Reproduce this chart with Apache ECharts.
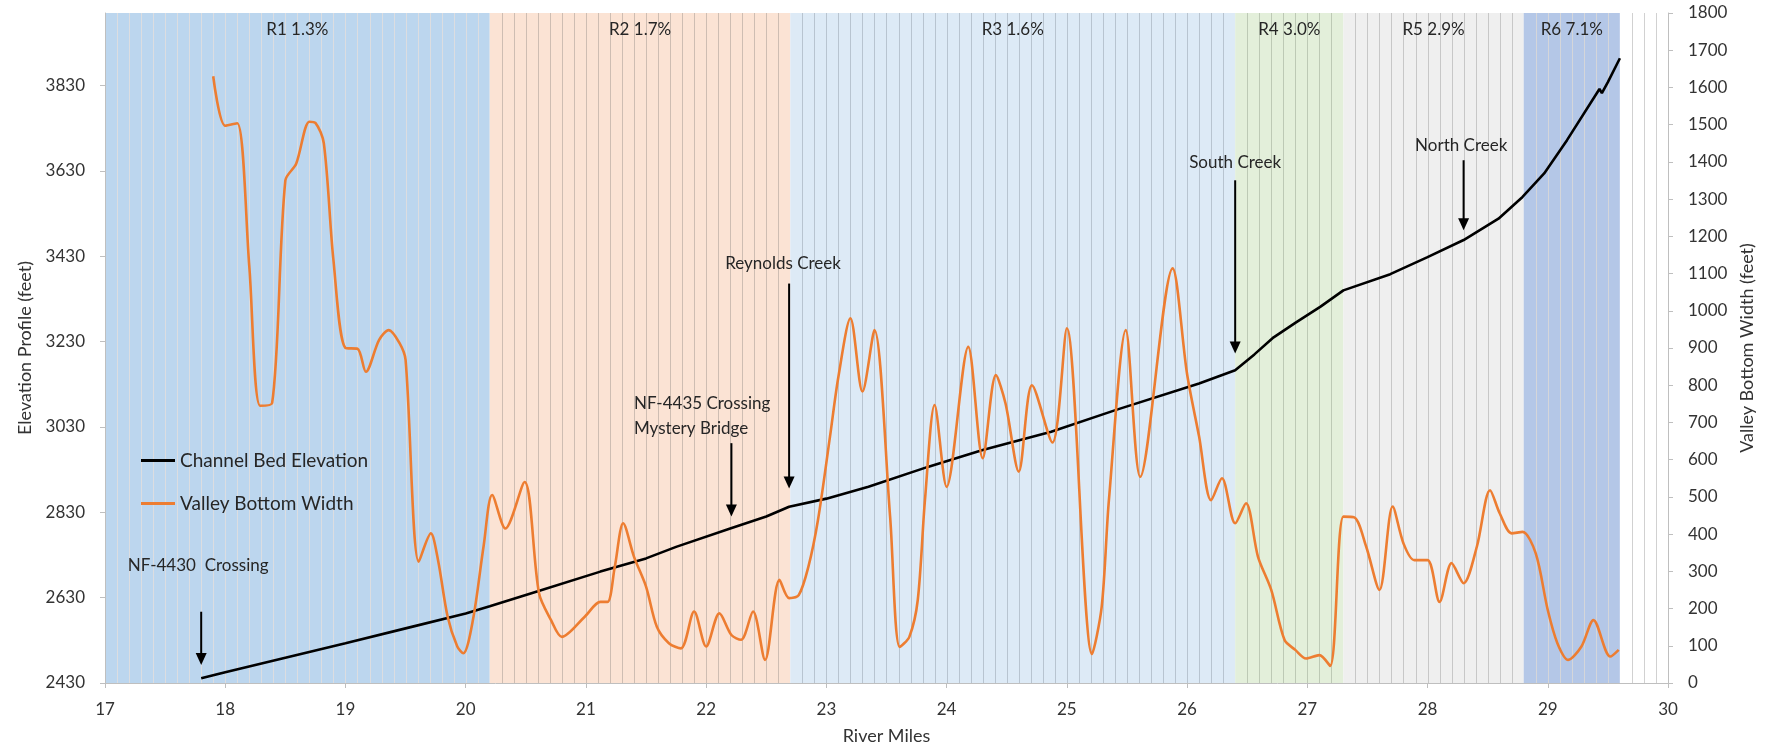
<!DOCTYPE html>
<html>
<head>
<meta charset="utf-8">
<title>Channel Bed Elevation and Valley Bottom Width</title>
<style>
  html, body { margin: 0; padding: 0; background: #ffffff; }
  #chart { width: 1775px; height: 754px; }
</style>
<script src="https://cdn.jsdelivr.net/npm/echarts@6/dist/echarts.min.js"></script>
</head>
<body>
<div id="chart"></div>
<script>
// ---- Reaches (background bands) ----
const reachLabels = ['R1 1.3%', 'R2 1.7%', 'R3 1.6%', 'R4 3.0%', 'R5 2.9%', 'R6 7.1%', ''];
const reachStart  = [17.0, 20.2, 22.7, 26.4, 27.3, 28.8, 29.6];
const reachEnd    = [20.2, 22.7, 26.4, 27.3, 28.8, 29.6, 30.0];

// ---- Channel bed elevation (feet) by river mile ----
const elevMiles = [17.8, 18.0, 18.5, 19.0, 19.5, 20.0, 20.2, 20.6, 21.12, 21.5, 21.75, 22.2, 22.5, 22.69,
  23.0, 23.35, 23.85, 24.3, 24.87, 25.41, 26.1, 26.4, 26.56, 26.72, 26.9, 27.11, 27.3, 27.69, 28.0,
  28.3, 28.59, 28.79, 28.97, 29.16, 29.43, 29.45, 29.5, 29.6];
const elevations = [2441, 2455, 2489, 2523, 2558, 2593, 2610, 2645, 2691, 2722, 2749, 2792, 2820, 2843,
  2862, 2890, 2937, 2976, 3019, 3070, 3132, 3163, 3200, 3240, 3274, 3312, 3350, 3388, 3428,
  3468, 3518, 3569, 3624, 3702, 3822, 3812, 3838, 3894];

// ---- Valley bottom width (feet) by river mile ----
const widthMiles = [17.9, 18.0, 18.1, 18.2, 18.29, 18.39, 18.5, 18.59, 18.7, 18.75, 18.82, 18.9, 19.0, 19.1,
  19.17, 19.28, 19.36, 19.45, 19.5, 19.61, 19.71, 19.77, 19.85, 19.93, 19.98, 20.06, 20.15, 20.22, 20.33,
  20.49, 20.61, 20.71, 20.8, 20.99, 21.12, 21.18, 21.24, 21.31, 21.4, 21.5, 21.59, 21.69, 21.79, 21.9,
  22.0, 22.11, 22.21, 22.29, 22.39, 22.49, 22.61, 22.69, 22.77, 22.85, 22.93, 23.03, 23.1, 23.2, 23.3,
  23.4, 23.53, 23.61, 23.69, 23.76, 23.82, 23.9, 24.0, 24.18, 24.3, 24.41, 24.49, 24.6, 24.71, 24.88,
  25.0, 25.21, 25.29, 25.35, 25.49, 25.61, 25.88, 26.0, 26.1, 26.2, 26.29, 26.4, 26.49, 26.59, 26.7,
  26.81, 26.9, 26.99, 27.1, 27.19, 27.3, 27.39, 27.49, 27.6, 27.71, 27.8, 27.89, 28.0, 28.1, 28.2,
  28.3, 28.41, 28.52, 28.6, 28.7, 28.79, 28.9, 29.0, 29.08, 29.17, 29.28, 29.38, 29.52, 29.59];
const widths = [1630, 1497, 1504, 1120, 745, 752, 1350, 1395, 1508, 1505, 1450, 1136, 900, 898,
  836, 922, 948, 913, 868, 326, 402, 330, 178, 98, 80, 169, 370, 505, 415,
  540, 241, 169, 124, 178, 218, 218, 312, 429, 339, 259, 151, 107, 93, 192,
  98, 187, 129, 116, 192, 62, 277, 228, 236, 312, 438, 662, 823, 980, 783,
  948, 447, 97, 124, 223, 492, 747, 527, 903, 604, 827, 751, 568, 800, 646,
  953, 78, 205, 492, 948, 554, 1114, 830, 662, 491, 550, 429, 483, 339, 250,
  116, 89, 66, 75, 46, 447, 445, 366, 250, 474, 375, 330, 330, 218, 322,
  268, 366, 518, 456, 402, 406, 348, 196, 107, 62, 98, 169, 71, 89];

// ---- Axis ticks ----
const mileTicks  = [17, 18, 19, 20, 21, 22, 23, 24, 25, 26, 27, 28, 29, 30];
const elevTicks  = [2430, 2630, 2830, 3030, 3230, 3430, 3630, 3830];
const widthTicks = [0, 100, 200, 300, 400, 500, 600, 700, 800, 900, 1000, 1100, 1200, 1300, 1400, 1500, 1600, 1700, 1800];

// ---- Notes: landmarks along the channel (arrow from/to in feet of elevation) ----
const noteLabels    = ['NF-4430  Crossing', 'NF-4435 Crossing\nMystery Bridge', 'Reynolds Creek', 'South Creek', 'North Creek'];
const noteMiles     = [17.8, 22.21, 22.69, 26.4, 28.3];
const noteFrom      = [2597, 2992, 3366, 3608, 3655];
const noteTo        = [2472, 2820, 2886, 3202, 3491];
const noteTextMiles = [17.19, 21.4, 22.64, 26.4, 28.28];
const noteTextElev  = [2706, 3056, 3412, 3649, 3690];

// ---- Styling ----
const FONT = 'Lato';
const TEXT = '#333333';
const AXIS = '#bfbfbf';
const reachFill = ['#bcd6ee', '#fbe3d4', '#ddeaf6', '#e3efda', '#efefef', '#b4c7e7', '#ffffff'];
const reachRule = ['rgba(246,228,214,0.55)', 'rgba(140,132,128,0.40)', 'rgba(120,130,142,0.36)',
  'rgba(130,140,122,0.38)', 'rgba(140,140,140,0.40)', 'rgba(240,226,206,0.55)', 'rgba(140,140,140,0.40)'];
const noteAlign = ['left', 'left', 'center', 'center', 'center'];

const elevMin = elevTicks[0];
const elevMax = 4000;

function renderReach(params, api) {
  const s = api.value(0), e = api.value(2), i = api.value(3);
  const cs = params.coordSys;
  const xa = api.coord([s, elevMin])[0];
  const xb = api.coord([e, elevMin])[0];
  const children = [{
    type: 'rect',
    shape: { x: xa, y: cs.y, width: xb - xa, height: cs.height },
    style: { fill: reachFill[i] }
  }];
  // thin rules every tenth of a mile
  for (let k = Math.round(s * 10) + 1; k < Math.round(e * 10); k++) {
    const x = Math.round(api.coord([k / 10, elevMin])[0]) + 0.5;
    children.push({
      type: 'line',
      shape: { x1: x, y1: cs.y, x2: x, y2: cs.y + cs.height },
      style: { stroke: reachRule[i], lineWidth: 1 }
    });
  }
  if (reachLabels[i]) {
    children.push({
      type: 'text',
      x: (xa + xb) / 2,
      y: cs.y + 17,
      style: { text: reachLabels[i], fill: '#262626', fontSize: 17, fontFamily: FONT, align: 'center', verticalAlign: 'middle' }
    });
  }
  return { type: 'group', children: children };
}

function renderNote(params, api) {
  const i = api.value(2);
  const top = api.coord([noteMiles[i], noteFrom[i]]);
  const tip = api.coord([noteMiles[i], noteTo[i]]);
  const txt = api.coord([noteTextMiles[i], noteTextElev[i]]);
  const head = 12, half = 5.5;
  return {
    type: 'group',
    children: [
      { type: 'line', shape: { x1: top[0], y1: top[1], x2: tip[0], y2: tip[1] - head + 1 },
        style: { stroke: '#000', lineWidth: 2 } },
      { type: 'polygon', shape: { points: [[tip[0], tip[1]], [tip[0] - half, tip[1] - head], [tip[0] + half, tip[1] - head]] },
        style: { fill: '#000' } },
      { type: 'text', x: txt[0], y: txt[1],
        style: { text: noteLabels[i], fill: '#262626', fontSize: 17, fontFamily: FONT, lineHeight: 25,
                 align: noteAlign[i], verticalAlign: 'middle' } }
    ]
  };
}

const chart = echarts.init(document.getElementById('chart'), null, { renderer: 'canvas' });

chart.setOption({
  animation: false,
  backgroundColor: '#ffffff',
  textStyle: { fontFamily: FONT },
  grid: { left: 105, right: 107, top: 13, bottom: 71, containLabel: false },
  legend: {
    data: ['Channel Bed Elevation', 'Valley Bottom Width'],
    orient: 'vertical',
    left: 136,
    top: 446,
    icon: 'rect',
    itemWidth: 34,
    itemHeight: 3,
    itemGap: 24,
    textStyle: { fontSize: 19, color: '#262626', fontFamily: FONT, padding: [0, 0, 0, 0] }
  },
  xAxis: {
    type: 'value',
    min: mileTicks[0],
    max: mileTicks[mileTicks.length - 1],
    interval: 1,
    z: 3,
    name: 'River Miles',
    nameLocation: 'middle',
    nameGap: 44,
    nameTextStyle: { fontSize: 18, color: TEXT, fontFamily: FONT },
    axisLine: { show: true, lineStyle: { color: AXIS, width: 1 } },
    axisTick: { show: true, length: 5, lineStyle: { color: AXIS } },
    axisLabel: { fontSize: 17, color: TEXT, margin: 18, fontFamily: FONT, formatter: v => String(v) },
    splitLine: { show: false }
  },
  yAxis: [
    {
      type: 'value',
      position: 'left',
      min: elevMin,
      max: elevMax,
      interval: 200,
      z: 3,
      name: 'Elevation Profile (feet)',
      nameLocation: 'middle',
      nameRotate: 90,
      nameGap: 70,
      nameTextStyle: { fontSize: 18, color: TEXT, fontFamily: FONT },
      axisLine: { show: true, lineStyle: { color: AXIS } },
      axisTick: { show: true, length: 5, lineStyle: { color: AXIS } },
      axisLabel: {
        fontSize: 17, color: TEXT, margin: 20, fontFamily: FONT, showMaxLabel: false,
        formatter: v => (elevTicks.indexOf(Math.round(v)) >= 0 ? String(Math.round(v)) : '')
      },
      splitLine: { show: false }
    },
    {
      type: 'value',
      position: 'right',
      min: widthTicks[0],
      max: widthTicks[widthTicks.length - 1],
      interval: 100,
      z: 3,
      name: 'Valley Bottom Width (feet)',
      nameLocation: 'middle',
      nameRotate: 90,
      nameGap: 70,
      nameTextStyle: { fontSize: 18, color: TEXT, fontFamily: FONT },
      axisLine: { show: true, lineStyle: { color: AXIS } },
      axisTick: { show: true, length: 5, lineStyle: { color: AXIS } },
      axisLabel: {
        fontSize: 17, color: TEXT, margin: 20, fontFamily: FONT,
        formatter: v => (widthTicks.indexOf(Math.round(v)) >= 0 ? String(Math.round(v)) : '')
      },
      splitLine: { show: false }
    }
  ],
  series: [
    {
      type: 'custom',
      name: 'reaches',
      z: 1,
      silent: true,
      xAxisIndex: 0,
      yAxisIndex: 0,
      renderItem: renderReach,
      encode: { x: [0, 2], y: 1 },
      data: reachStart.map((s, i) => [s, elevMin, reachEnd[i], i])
    },
    {
      type: 'line',
      name: 'Channel Bed Elevation',
      yAxisIndex: 0,
      z: 4,
      symbol: 'none',
      lineStyle: { color: '#000000', width: 2.6 },
      itemStyle: { color: '#000000' },
      data: elevMiles.map((m, i) => [m, elevations[i]])
    },
    {
      type: 'line',
      name: 'Valley Bottom Width',
      yAxisIndex: 1,
      z: 5,
      symbol: 'none',
      smooth: 0.3,
      lineStyle: { color: '#ed7d31', width: 2.6 },
      itemStyle: { color: '#ed7d31' },
      data: widthMiles.map((m, i) => [m, widths[i]])
    },
    {
      type: 'custom',
      name: 'notes',
      z: 6,
      silent: true,
      xAxisIndex: 0,
      yAxisIndex: 0,
      renderItem: renderNote,
      encode: { x: 0, y: 1 },
      data: noteMiles.map((m, i) => [m, noteFrom[i], i])
    }
  ]
});
</script>
</body>
</html>
